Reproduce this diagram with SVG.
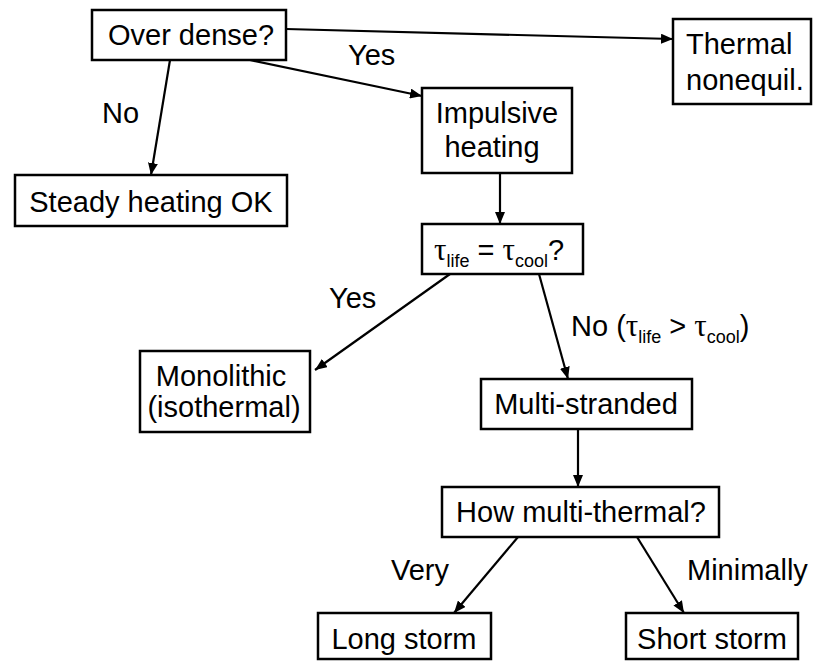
<svg xmlns="http://www.w3.org/2000/svg" width="813" height="662" viewBox="0 0 813 662">
<style>
  .box{fill:#fff;stroke:#000;stroke-width:2.5}
  .t{font-family:"Liberation Sans",Arial,sans-serif;font-size:29px;fill:#000}
  .c{text-anchor:middle}
  .sub{font-size:18px}
  .tau{font-family:"Liberation Serif","Times New Roman",serif;font-size:31px}
  .edge{stroke:#000;stroke-width:2.2;fill:none;marker-end:url(#ah)}
</style>
<defs>
  <marker id="ah" markerUnits="userSpaceOnUse" markerWidth="12" markerHeight="10" refX="12" refY="5" orient="auto">
    <path d="M0,0 L12,5 L0,10 z" fill="#000"/>
  </marker>
</defs>
<rect width="813" height="662" fill="#fff"/>
<g id="connectors">
  <line class="edge" x1="286" y1="29" x2="673" y2="39"/>
  <line class="edge" x1="250" y1="60" x2="422" y2="96"/>
  <line class="edge" x1="170" y1="60" x2="151" y2="175"/>
  <line class="edge" x1="500" y1="173" x2="500" y2="224"/>
  <line class="edge" x1="450" y1="274" x2="315" y2="370"/>
  <line class="edge" x1="539" y1="274" x2="568" y2="379"/>
  <line class="edge" x1="578" y1="429" x2="578" y2="487"/>
  <line class="edge" x1="518" y1="537" x2="454" y2="613"/>
  <line class="edge" x1="637" y1="537" x2="684" y2="613"/>
  <text class="t" x="348" y="65">Yes</text>
  <text class="t" x="102" y="123">No</text>
  <text class="t" x="329" y="308">Yes</text>
  <text class="t" x="571" y="336">No (<tspan class="tau">τ</tspan><tspan class="sub" dy="7">life</tspan><tspan dy="-7"> &gt; </tspan><tspan class="tau">τ</tspan><tspan class="sub" dy="7">cool</tspan><tspan dy="-7">)</tspan></text>
  <text class="t" x="391" y="580">Very</text>
  <text class="t" x="687" y="580">Minimally</text>
</g>
<g id="over-dense">
  <rect class="box" x="92" y="10" width="194" height="50"/>
  <text class="t c" x="191" y="45">Over dense?</text>
</g>
<g id="thermal-nonequil">
  <rect class="box" x="673" y="19" width="138" height="85"/>
  <text class="t" x="686" y="54">Thermal</text>
  <text class="t" x="686" y="90">nonequil.</text>
</g>
<g id="steady-heating">
  <rect class="box" x="15" y="175" width="272" height="51"/>
  <text class="t c" x="151" y="212">Steady heating OK</text>
</g>
<g id="impulsive-heating">
  <rect class="box" x="422" y="88" width="150" height="85"/>
  <text class="t c" x="497" y="123">Impulsive</text>
  <text class="t c" x="492" y="157">heating</text>
</g>
<g id="tau-question">
  <rect class="box" x="422" y="224" width="161" height="50"/>
  <text class="t" x="434" y="260"><tspan class="tau">τ</tspan><tspan class="sub" dy="7">life</tspan><tspan dy="-7"> = </tspan><tspan class="tau">τ</tspan><tspan class="sub" dy="7">cool</tspan><tspan dy="-7">?</tspan></text>
</g>
<g id="monolithic">
  <rect class="box" x="140" y="351" width="170" height="81"/>
  <text class="t c" x="221" y="386">Monolithic</text>
  <text class="t c" x="224" y="417">(isothermal)</text>
</g>
<g id="multi-stranded">
  <rect class="box" x="481" y="379" width="211" height="50"/>
  <text class="t c" x="586" y="414">Multi-stranded</text>
</g>
<g id="how-multi-thermal">
  <rect class="box" x="442" y="487" width="277" height="50"/>
  <text class="t c" x="581" y="522">How multi-thermal?</text>
</g>
<g id="long-storm">
  <rect class="box" x="318" y="613" width="173" height="46"/>
  <text class="t c" x="404" y="649">Long storm</text>
</g>
<g id="short-storm">
  <rect class="box" x="626" y="613" width="172" height="46"/>
  <text class="t c" x="712" y="649">Short storm</text>
</g>
</svg>
